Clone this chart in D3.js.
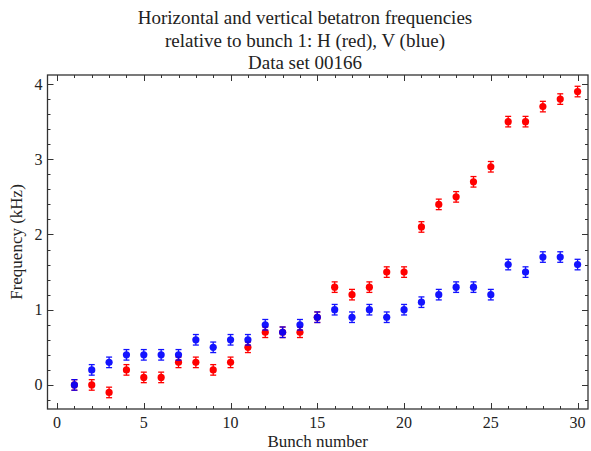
<!DOCTYPE html>
<html>
<head>
<meta charset="utf-8">
<script src="https://cdn.jsdelivr.net/npm/d3@7"></script>
<style>
  body { margin: 0; background: #fff; }
  svg text { font-family: "Liberation Serif", "Times New Roman", serif; fill: #222; }
</style>
</head>
<body>
<div class="svg"></div>
<script>
'use strict';

var bunches = [1, 2, 3, 4, 5, 6, 7, 8, 9, 10, 11, 12, 13, 14, 15,
    16, 17, 18, 19, 20, 21, 22, 23, 24, 25, 26, 27, 28, 29, 30];
var freqH = [0, 0, -0.1, 0.2, 0.1, 0.1, 0.3, 0.3, 0.2, 0.3, 0.5, 0.7, 0.7, 0.7, 0.9,
    1.3, 1.2, 1.3, 1.5, 1.5, 2.1, 2.4, 2.5, 2.7, 2.9, 3.5, 3.5, 3.7, 3.8, 3.9];
var freqV = [0, 0.2, 0.3, 0.4, 0.4, 0.4, 0.4, 0.6, 0.5, 0.6, 0.6, 0.8, 0.7, 0.8, 0.9,
    1.0, 0.9, 1.0, 0.9, 1.0, 1.1, 1.2, 1.3, 1.3, 1.2, 1.6, 1.5, 1.7, 1.7, 1.6];
var errBar = 0.07;
var xTicks = [0, 5, 10, 15, 20, 25, 30];
var yTicks = [0, 1, 2, 3, 4];
var titleLines = ['Horizontal and vertical betatron frequencies',
    'relative to bunch 1: H (red), V (blue)',
    'Data set 00166'];

var width = 591, height = 451;
var frame = { left: 47.5, right: 588, top: 75, bottom: 409 };

var x = d3.scaleLinear().domain([-0.55, 30.6]).range([frame.left, frame.right]);
var y = d3.scaleLinear().domain([-0.32, 4.12]).range([frame.bottom, frame.top]);

var svg = d3.select('div.svg').append('svg')
    .attr('width', width)
    .attr('height', height);

// titles
svg.selectAll('text.title')
    .data(titleLines)
    .enter().append('text')
    .attr('class', 'title')
    .attr('x', 305)
    .attr('y', function (d, i) { return 24 + i * 22.5; })
    .attr('text-anchor', 'middle')
    .style('font-size', '19px')
    .text(function (d) { return d; });

// frame ticks, Mathematica style (inward, all sides)
var xMinor = d3.range(0, 31, 1);
var yMinor = d3.range(-0.2, 4.01, 0.2).map(function (v) { return Math.round(v * 10) / 10; });

var ticks = svg.append('g').attr('stroke', '#333').attr('stroke-width', 1);
xMinor.forEach(function (v) {
    var len = v % 5 === 0 ? 6 : 3;
    var px = Math.round(x(v)) + 0.5;
    ticks.append('line').attr('x1', px).attr('x2', px)
        .attr('y1', frame.bottom).attr('y2', frame.bottom - len);
    ticks.append('line').attr('x1', px).attr('x2', px)
        .attr('y1', frame.top).attr('y2', frame.top + len);
});
yMinor.forEach(function (v) {
    var major = Math.abs(v - Math.round(v)) < 1e-6;
    var len = major ? 6 : 3;
    var py = Math.round(y(v)) + 0.5;
    ticks.append('line').attr('y1', py).attr('y2', py)
        .attr('x1', frame.left).attr('x2', frame.left + len);
    ticks.append('line').attr('y1', py).attr('y2', py)
        .attr('x1', frame.right).attr('x2', frame.right - len);
});

svg.append('rect')
    .attr('x', frame.left).attr('y', frame.top)
    .attr('width', frame.right - frame.left)
    .attr('height', frame.bottom - frame.top)
    .attr('fill', 'none')
    .attr('stroke', '#333')
    .attr('stroke-width', 1.3);

// tick labels
svg.selectAll('text.xt')
    .data(xTicks)
    .enter().append('text')
    .attr('x', function (d) { return x(d); })
    .attr('y', frame.bottom + 19)
    .attr('text-anchor', 'middle')
    .style('font-size', '16px')
    .text(function (d) { return d; });

svg.selectAll('text.yt')
    .data(yTicks)
    .enter().append('text')
    .attr('x', frame.left - 5)
    .attr('y', function (d) { return y(d) + 5.5; })
    .attr('text-anchor', 'end')
    .style('font-size', '16px')
    .text(function (d) { return d; });

// axis labels
svg.append('text')
    .attr('x', (frame.left + frame.right) / 2)
    .attr('y', 447)
    .attr('text-anchor', 'middle')
    .style('font-size', '17px')
    .text('Bunch number');

svg.append('text')
    .attr('transform', 'translate(22,' + ((frame.top + frame.bottom) / 2) + ') rotate(-90)')
    .attr('text-anchor', 'middle')
    .style('font-size', '17px')
    .text('Frequency (kHz)');

// series with error bars
function drawSeries(values, color, opacity) {
    var g = svg.append('g').attr('opacity', opacity);
    var pts = g.selectAll('g.pt')
        .data(values)
        .enter().append('g');
    pts.append('line')
        .attr('x1', function (d, i) { return x(bunches[i]); })
        .attr('x2', function (d, i) { return x(bunches[i]); })
        .attr('y1', function (d) { return y(d - errBar); })
        .attr('y2', function (d) { return y(d + errBar); })
        .attr('stroke', color).attr('stroke-width', 1.3);
    [-1, 1].forEach(function (s) {
        pts.append('line')
            .attr('x1', function (d, i) { return x(bunches[i]) - 3; })
            .attr('x2', function (d, i) { return x(bunches[i]) + 3; })
            .attr('y1', function (d) { return y(d + s * errBar); })
            .attr('y2', function (d) { return y(d + s * errBar); })
            .attr('stroke', color).attr('stroke-width', 1.3);
    });
    pts.append('circle')
        .attr('cx', function (d, i) { return x(bunches[i]); })
        .attr('cy', function (d) { return y(d); })
        .attr('r', 3.6)
        .attr('fill', color);
}

drawSeries(freqH, '#ff0000', 1);
drawSeries(freqV, '#0000ff', 0.92);
</script>
</body>
</html>
